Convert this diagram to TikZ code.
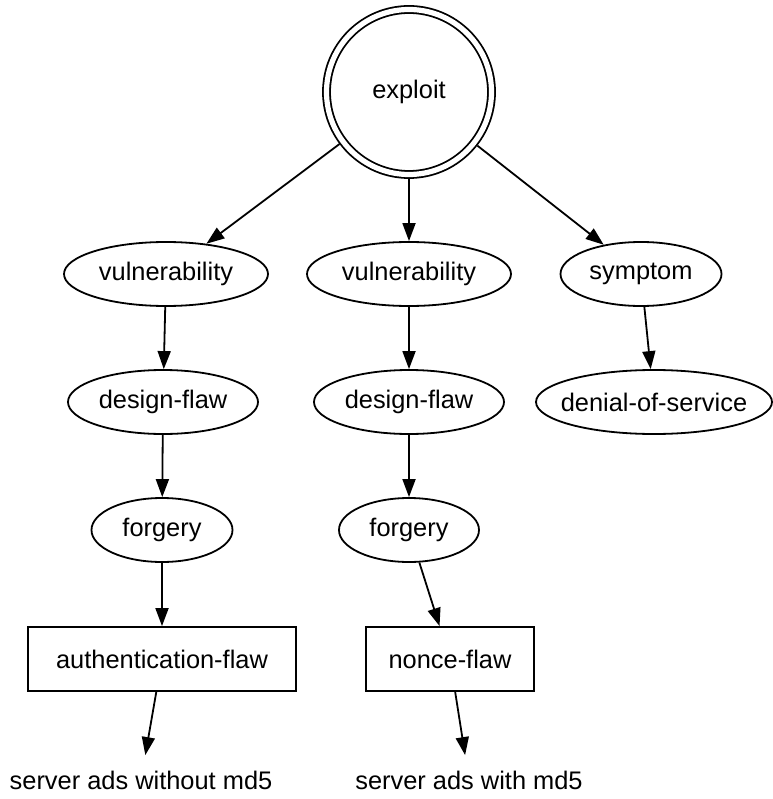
\documentclass[tikz,border=0pt]{standalone}
\usepackage{fontspec}
\setmainfont{Liberation Sans}
\usetikzlibrary{arrows.meta,
shapes.geometric,
positioning}

\begin{document}
\begin{tikzpicture} [-{Triangle[length=18pt, width=13pt]},
    line width = 1.8pt,
    font = \fontsize{25.4pt}{30pt}\selectfont,
    main node/.style={ellipse, draw, inner sep = -40pt,
        minimum height = 64pt},
    flaw node/.style={rectangle, draw, inner sep = 0pt,
        minimum height = 64pt},
    ads node/.style={inner sep = 0pt, minimum height = 48pt}
  ]

  \useasboundingbox (0, 0) rectangle (772pt, -799pt);

  \node [circle,
    draw,
    double,
    double distance = 5.2pt,
    minimum size = 165pt,
    outer sep = 4.4pt
  ] (exploit) at (409pt, -92pt) {exploit};

  \node [main node,
    minimum width = 204pt
  ] (vuln1) at (166pt, -274pt) {vulnerability};

  \node [main node,
    minimum width = 204pt
  ] (vuln2) at (409pt, -274pt) {vulnerability};

  \node [main node,
    minimum width = 161pt
  ] (symptom) at (641pt, -274pt) {symptom};

  \node [main node,
    minimum width = 190pt,
    below = 62.2pt of vuln1,
    xshift = -3pt
  ] (design1) {design-flaw};

  \node [main node,
    minimum width = 190pt,
    below = 62.2pt of vuln2
  ] (design2) {design-flaw};

  \node [main node,
    minimum width = 236pt,
    below = 62.2pt of symptom,
    xshift = 13pt
  ] (dos) {denial-of-service};

  \node [main node,
    minimum width = 141pt,
    below = 62.2pt of design1,
    xshift = -1pt
  ] (forgery1) {forgery};

  \node [main node,
    minimum width = 140pt,
    below = 62.2pt of design2
  ] (forgery2) {forgery};

  \node [flaw node,
    minimum width = 268pt,
    below = 63.2pt of forgery1
  ] (authflaw) {authentication-flaw};

  \node [flaw node,
    minimum width = 168pt,
    below = 63.2pt of forgery2,
    xshift = 41pt
  ] (nonceflaw) {nonce-flaw};

  \node [ads node] (adsno) at (141pt, -780pt) {server ads without md5};
  \node [ads node] (adsmd5) at (469pt, -780pt) {server ads with md5};

  %%%%%%%%%%%%%%%%%%%%%%%%%%%%%%

  \draw (exploit) -- (vuln1);
  \draw (exploit) -- (vuln2);
  \draw (exploit) -- (symptom);
  \draw (vuln1) -- (design1);
  \draw (design1) -- (forgery1);
  \draw (forgery1) -- (authflaw);
  \draw (authflaw) -- (adsno);
  \draw (vuln2) -- (design2);
  \draw (design2) -- (forgery2);
  \draw (forgery2) -- (nonceflaw);
  \draw (nonceflaw) -- (adsmd5);
  \draw (symptom) -- (dos);

\end{tikzpicture}
\end{document}
